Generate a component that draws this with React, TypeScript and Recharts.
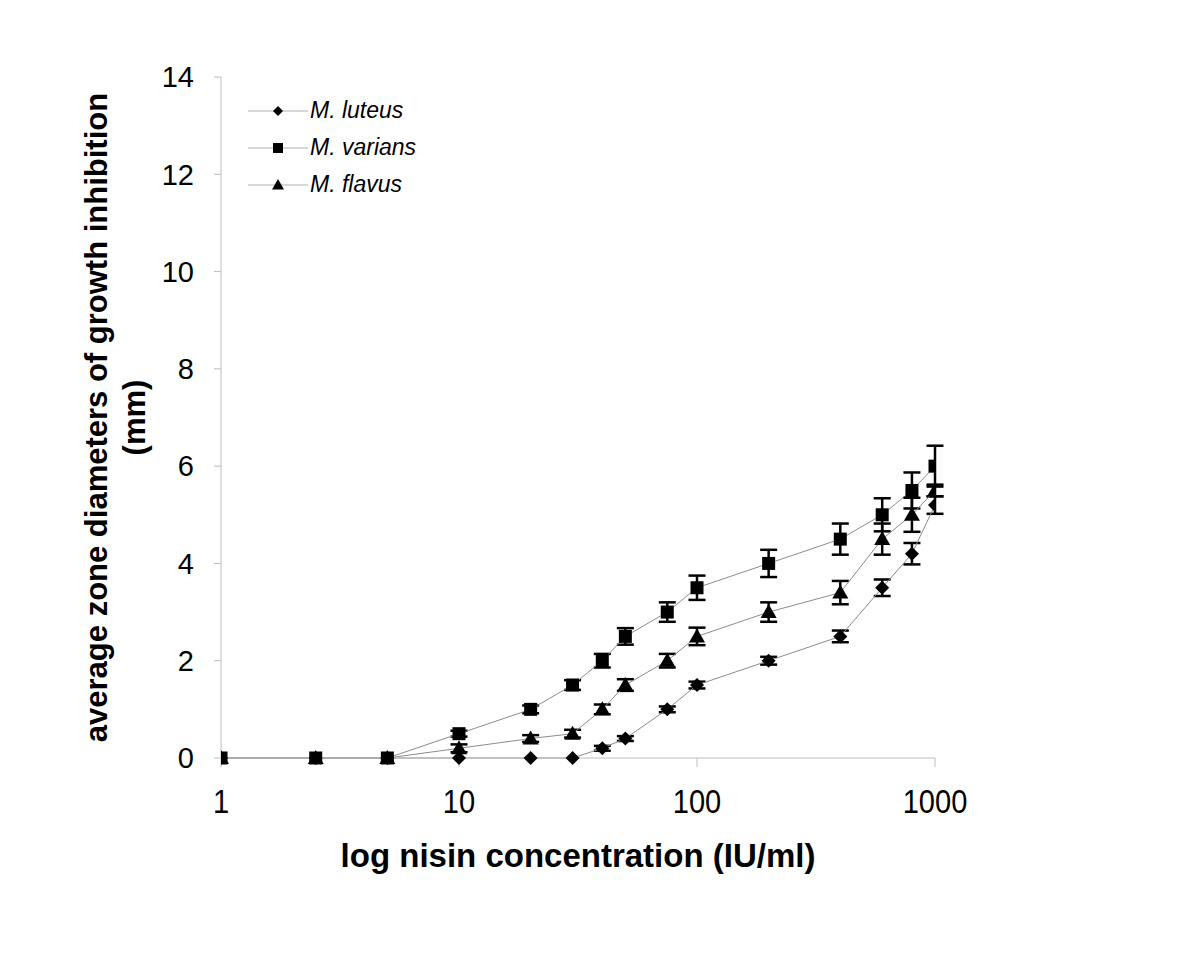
import React from "react";
import {
  LineChart,
  Line,
  XAxis,
  YAxis,
  ErrorBar,
  Legend,
  Label,
} from "recharts";

// nisin concentrations (IU/ml)
const concentrations = [1, 2.5, 5, 10, 20, 30, 40, 50, 75, 100, 200, 400, 600, 800, 1000];

const luteus = [0, 0, 0, 0, 0, 0, 0.2, 0.4, 1.0, 1.5, 2.0, 2.5, 3.5, 4.2, 5.2];
const luteusErr = [0, 0, 0, 0, 0, 0, 0.05, 0.05, 0.06, 0.07, 0.08, 0.12, 0.17, 0.22, 0.18];

const varians = [0, 0, 0, 0.5, 1.0, 1.5, 2.0, 2.5, 3.0, 3.5, 4.0, 4.5, 5.0, 5.5, 6.0];
const variansErr = [0, 0, 0, 0.06, 0.08, 0.1, 0.14, 0.17, 0.2, 0.25, 0.28, 0.32, 0.34, 0.37, 0.42];

const flavus = [0, 0, 0, 0.2, 0.4, 0.5, 1.0, 1.5, 2.0, 2.5, 3.0, 3.4, 4.5, 5.0, 5.5];
const flavusErr = [0, 0, 0, 0.08, 0.07, 0.08, 0.1, 0.12, 0.14, 0.18, 0.2, 0.24, 0.32, 0.35, 0.12];

const xTicks = [1, 10, 100, 1000];
const yTicks = [0, 2, 4, 6, 8, 10, 12, 14];

const seriesNames = ["M. luteus", "M. varians", "M. flavus"];

const data = concentrations.map((c, i) => ({
  conc: c,
  luteus: luteus[i],
  luteusErr: luteusErr[i],
  varians: varians[i],
  variansErr: variansErr[i],
  flavus: flavus[i],
  flavusErr: flavusErr[i],
}));

const AXIS = "#bdbdbd";
const LINE = "#8c8c8c";
const FONT = "'Liberation Sans', Arial, sans-serif";

const diamond = (cx: number, cy: number, r = 7) =>
  `M${cx},${cy - r}L${cx + r},${cy}L${cx},${cy + r}L${cx - r},${cy}Z`;
const triangle = (cx: number, cy: number, r = 8) =>
  `M${cx},${cy - r}L${cx + r},${cy + r * 0.75}L${cx - r},${cy + r * 0.75}Z`;

const DiamondDot = (p: any) => <path key={p.key ?? p.index} d={diamond(p.cx, p.cy)} fill="#000" />;
const SquareDot = (p: any) => (
  <rect key={p.key ?? p.index} x={p.cx - 6.5} y={p.cy - 6.5} width={13} height={13} fill="#000" />
);
const TriangleDot = (p: any) => <path key={p.key ?? p.index} d={triangle(p.cx, p.cy)} fill="#000" />;

const LegendIcon = ({ kind }: { kind: number }) => (
  <svg width={60} height={14} style={{ verticalAlign: "middle" }}>
    <line x1={0} y1={7} x2={60} y2={7} stroke="#b0b0b0" strokeWidth={1} />
    {kind === 0 && <path d={diamond(30, 7, 5)} fill="#000" />}
    {kind === 1 && <rect x={25} y={2} width={10} height={10} fill="#000" />}
    {kind === 2 && <path d={triangle(30, 7, 6)} fill="#000" />}
  </svg>
);

const renderLegend = () => (
  <div style={{ fontFamily: FONT, fontStyle: "italic", fontSize: 23 }}>
    {seriesNames.map((n, i) => (
      <div key={n} style={{ height: 37, display: "flex", alignItems: "center" }}>
        <LegendIcon kind={i} />
        <span style={{ marginLeft: 2 }}>{n}</span>
      </div>
    ))}
  </div>
);

const XTick = (props: any) => {
  const { x, y, payload } = props;
  return (
    <text
      x={0}
      y={0}
      transform={`translate(${x},${y}) scale(0.88,1)`}
      textAnchor="middle"
      dominantBaseline="hanging"
      fontFamily={FONT}
      fontSize={33}
      fill="#000"
    >
      {payload.value}
    </text>
  );
};

const YTitle = (props: any) => {
  const { viewBox } = props;
  const cy = viewBox.y + viewBox.height / 2;
  return (
    <g fontFamily={FONT} fontWeight="bold" fontSize={31} fill="#000" textAnchor="middle">
      <text x={88} y={cy} transform={`rotate(-90 88 ${cy})`} dominantBaseline="central">
        average zone diameters of growth inhibition
      </text>
      <text x={126} y={cy} transform={`rotate(-90 126 ${cy})`} dominantBaseline="central">
        (mm)
      </text>
    </g>
  );
};

export default function App() {
  return (
    <div style={{ width: 1184, height: 944, background: "#fff" }}>
      <LineChart
        width={1184}
        height={944}
        data={data}
        margin={{ top: 69, right: 257, bottom: 0, left: 0 }}
      >
        <XAxis
          dataKey="conc"
          type="number"
          scale="log"
          domain={[1, 1000]}
          ticks={xTicks}
          allowDataOverflow
          stroke={AXIS}
          tickSize={9}
          tickMargin={22}
          height={194}
          tick={<XTick />}
        >
          <Label
            value="log nisin concentration (IU/ml)"
            position="insideTop"
            offset={86}
            style={{ fontFamily: FONT, fontWeight: "bold", fontSize: 33, fill: "#000" }}
          />
        </XAxis>
        <YAxis
          type="number"
          domain={[0, 14]}
          ticks={yTicks}
          width={213}
          stroke={AXIS}
          tickSize={7}
          tickMargin={20}
          tick={{ fill: "#000", fontSize: 29, fontFamily: FONT }}
        >
          <Label content={<YTitle />} />
        </YAxis>
        <Legend
          content={renderLegend}
          layout="horizontal"
          verticalAlign="middle"
          align="center"
          wrapperStyle={{ top: 84, left: 240, width: 220 }}
        />
        <Line
          dataKey="luteus"
          stroke={LINE}
          strokeWidth={1}
          dot={DiamondDot}
          isAnimationActive={false}
        >
          <ErrorBar dataKey="luteusErr" width={8.5} strokeWidth={2.5} stroke="#000" direction="y" />
        </Line>
        <Line
          dataKey="varians"
          stroke={LINE}
          strokeWidth={1}
          dot={SquareDot}
          isAnimationActive={false}
        >
          <ErrorBar dataKey="variansErr" width={8.5} strokeWidth={2.5} stroke="#000" direction="y" />
        </Line>
        <Line
          dataKey="flavus"
          stroke={LINE}
          strokeWidth={1}
          dot={TriangleDot}
          isAnimationActive={false}
        >
          <ErrorBar dataKey="flavusErr" width={8.5} strokeWidth={2.5} stroke="#000" direction="y" />
        </Line>
      </LineChart>
    </div>
  );
}
